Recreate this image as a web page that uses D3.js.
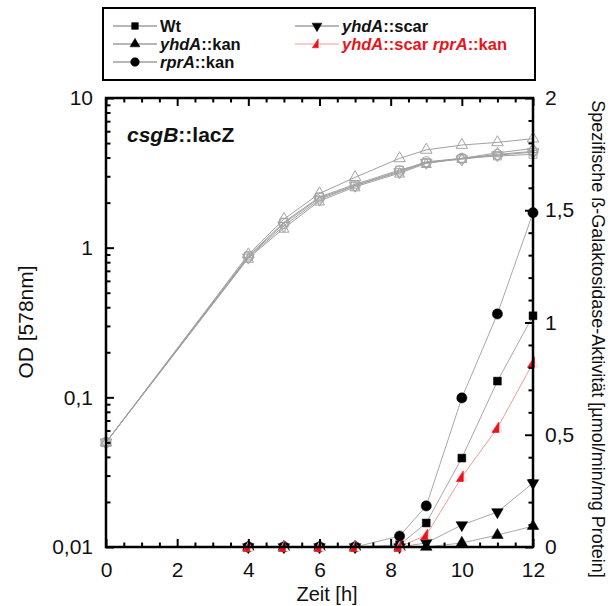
<!DOCTYPE html>
<html>
<head>
<meta charset="utf-8">
<script src="https://cdn.jsdelivr.net/npm/d3@7/dist/d3.min.js"></script>
<style>
  html, body { margin: 0; padding: 0; background: #fff; }
  svg { display: block; font-family: "Liberation Sans", Arial, sans-serif; }
</style>
</head>
<body>
<svg id="chart" width="610" height="606"></svg>
<script>
// Strain names (legend order)
const strains = ["Wt", "yhdA::kan", "rprA::kan", "yhdA::scar", "yhdA::scar rprA::kan"];

// Growth curve sampling times [h] and OD578 per strain
const odTimes = [0, 4, 5, 6, 7, 8.25, 9, 10, 11, 12];
const odWt        = [0.05, 0.88, 1.48, 2.18, 2.65, 3.30, 3.70, 3.95, 4.10, 4.20];
const odYhdAKan   = [0.05, 0.90, 1.55, 2.30, 2.95, 3.95, 4.50, 4.85, 5.05, 5.35];
const odRprAKan   = [0.05, 0.87, 1.45, 2.15, 2.60, 3.25, 3.75, 3.95, 4.20, 4.40];
const odYhdAScar  = [0.05, 0.86, 1.40, 2.10, 2.60, 3.20, 3.70, 3.90, 4.15, 4.35];
const odDouble    = [0.05, 0.85, 1.35, 2.05, 2.55, 3.15, 3.65, 3.95, 4.30, 4.60];

// Specific beta-galactosidase activity [µmol/min/mg protein]
const actTimes = [4, 5, 6, 7, 8.25, 9, 10, 11, 12];
const actWt       = [0, 0, 0, 0, 0.01, 0.107, 0.396, 0.739, 1.03];
const actYhdAKan  = [0, 0, 0, 0, 0, 0, 0.018, 0.053, 0.093];
const actRprAKan  = [0, 0, 0, 0, 0.049, 0.183, 0.664, 1.038, 1.489];
const actYhdAScar = [0, 0, 0, 0, 0, 0.018, 0.098, 0.156, 0.285];
const actDouble   = [0, 0, 0, 0, 0, 0.053, 0.312, 0.53, 0.82];

// Axis ticks
const xTicks = [0, 2, 4, 6, 8, 10, 12];
const odTicks = [0.01, 0.1, 1, 10];
const odTickLabels = ["0,01", "0,1", "1", "10"];
const actTicks = [0, 0.5, 1, 1.5, 2];
const actTickLabels = ["0", "0,5", "1", "1,5", "2"];

const odSeries = [odWt, odYhdAKan, odRprAKan, odYhdAScar, odDouble];
const actSeries = [actWt, actYhdAKan, actRprAKan, actYhdAScar, actDouble];

// Marker shape and colour for each strain
const styles = [
  { shape: "square",   color: "#000", line: "#a8a8a8" },
  { shape: "triUp",    color: "#000", line: "#a8a8a8" },
  { shape: "circle",   color: "#000", line: "#a8a8a8" },
  { shape: "triDown",  color: "#000", line: "#a8a8a8" },
  { shape: "halfTri",  color: "#e8141b", line: "#f39a9a" }
];

const svg = d3.select("#chart");
const FONT = '"Liberation Sans", Arial, sans-serif';

const x = d3.scaleLinear().domain([0, 12]).range([106, 533]);
const yOD = d3.scaleLog().domain([0.01, 10]).range([547, 98]);
const yAct = d3.scaleLinear().domain([0, 2]).range([547, 98]);

// Marker drawing
function drawMarker(g, shape, color, open, scale) {
  const k = scale || 1;
  const stroke = open ? "#a4a4a4" : color;
  const fill = open ? "none" : color;
  const sw = open ? 1 : 0.5;
  if (shape === "square") {
    g.append("path").attr("d", d3.symbol(d3.symbolSquare, 62 * k * k)())
      .attr("fill", fill).attr("stroke", stroke).attr("stroke-width", sw);
  } else if (shape === "circle") {
    g.append("path").attr("d", d3.symbol(d3.symbolCircle, 82 * k * k)())
      .attr("fill", fill).attr("stroke", stroke).attr("stroke-width", sw);
  } else if (shape === "triUp") {
    g.append("path").attr("d", d3.symbol(d3.symbolTriangle, 58 * k * k)())
      .attr("fill", fill).attr("stroke", stroke).attr("stroke-width", sw);
  } else if (shape === "triDown") {
    g.append("path").attr("d", d3.symbol(d3.symbolTriangle, 58 * k * k)())
      .attr("transform", "rotate(180)")
      .attr("fill", fill).attr("stroke", stroke).attr("stroke-width", sw);
  } else if (shape === "halfTri") {
    const t = `scale(${k})`;
    if (open) {
      g.append("path").attr("d", "M0,-5.5L5,4L-5,4Z").attr("transform", t)
        .attr("fill", "none").attr("stroke", stroke).attr("stroke-width", 1);
    } else {
      g.append("path").attr("d", "M0,-5.5L5,4L-5,4Z").attr("transform", t)
        .attr("fill", "#fff").attr("stroke", "#f8c6c6").attr("stroke-width", 0.7);
      g.append("path").attr("d", "M1.5,-6L1.5,4.5L-5.5,4.5Z").attr("transform", t)
        .attr("fill", color).attr("stroke", color).attr("stroke-width", 0.6);
    }
  }
}

// Writes a strain label with gene names in italics
function richText(textSel, label) {
  label.split(" ").forEach((tok, i) => {
    const prefix = i > 0 ? " " : "";
    const k = tok.indexOf("::");
    if (k > 0) {
      textSel.append("tspan").attr("font-style", "italic").text(prefix + tok.slice(0, k));
      textSel.append("tspan").text(tok.slice(k));
    } else {
      textSel.append("tspan").text(prefix + tok);
    }
  });
}

// ---- Growth curves (left axis, log OD)
const odLine = d3.line().x((d, i) => x(odTimes[i])).y(d => yOD(d));
odSeries.forEach((vals, s) => {
  svg.append("path").datum(vals).attr("d", odLine)
    .attr("fill", "none").attr("stroke", "#a0a0a0").attr("stroke-width", 1);
});
odSeries.forEach((vals, s) => {
  vals.forEach((v, i) => {
    const g = svg.append("g").attr("transform", `translate(${x(odTimes[i])},${yOD(v)})`);
    drawMarker(g, styles[s].shape, styles[s].color, true);
  });
});

// ---- Activity curves (right axis)
const actLine = d3.line().x((d, i) => x(actTimes[i])).y(d => yAct(d));
actSeries.forEach((vals, s) => {
  svg.append("path").datum(vals).attr("d", actLine)
    .attr("fill", "none").attr("stroke", styles[s].line).attr("stroke-width", 1);
});
[1, 3, 0, 2, 4].forEach(s => {
  actSeries[s].forEach((v, i) => {
    const g = svg.append("g").attr("transform", `translate(${x(actTimes[i])},${yAct(v)})`);
    drawMarker(g, styles[s].shape, styles[s].color, false);
  });
});

// ---- Axes
function styleAxis(g, fontSize) {
  g.select(".domain").remove();
  g.selectAll(".tick line").attr("stroke", "#000").attr("stroke-width", 2);
  g.selectAll(".tick text").attr("font-family", FONT).attr("font-size", fontSize).attr("fill", "#111");
}

const xMinor = d3.range(0, 12.01, 0.5).filter(v => v % 2 !== 0);
svg.append("g").attr("transform", "translate(0,547)")
  .call(d3.axisBottom(x).tickValues(xTicks).tickSize(-8).tickPadding(15).tickFormat(d3.format("d")))
  .call(g => styleAxis(g, 21));
svg.append("g").attr("transform", "translate(0,547)")
  .call(d3.axisBottom(x).tickValues(xMinor).tickSize(-4.5).tickFormat(""))
  .call(g => styleAxis(g, 21));
svg.append("g").attr("transform", "translate(0,98)")
  .call(d3.axisTop(x).tickValues(xTicks).tickSize(-8).tickFormat(""))
  .call(g => styleAxis(g, 21));
svg.append("g").attr("transform", "translate(0,98)")
  .call(d3.axisTop(x).tickValues(xMinor).tickSize(-4.5).tickFormat(""))
  .call(g => styleAxis(g, 21));

const odMinor = [];
[0.01, 0.1, 1].forEach(dec => { for (let m = 2; m <= 9; m++) odMinor.push(dec * m); });
svg.append("g").attr("transform", "translate(106,0)")
  .call(d3.axisLeft(yOD).tickValues(odTicks).tickSize(-8).tickPadding(13)
    .tickFormat((d, i) => odTickLabels[i]))
  .call(g => styleAxis(g, 21));
svg.append("g").attr("transform", "translate(106,0)")
  .call(d3.axisLeft(yOD).tickValues(odMinor).tickSize(-4.5).tickFormat(""))
  .call(g => styleAxis(g, 21));

const actMinor = d3.range(1, 20).map(v => v / 10).filter(v => Math.abs(v * 2 - Math.round(v * 2)) > 1e-6);
svg.append("g").attr("transform", "translate(533,0)")
  .call(d3.axisRight(yAct).tickValues(actTicks).tickSize(-8).tickPadding(12)
    .tickFormat((d, i) => actTickLabels[i]))
  .call(g => styleAxis(g, 21));
svg.append("g").attr("transform", "translate(533,0)")
  .call(d3.axisRight(yAct).tickValues(actMinor).tickSize(-4.5).tickFormat(""))
  .call(g => styleAxis(g, 21));

// Plot frame
svg.append("rect").attr("x", 106).attr("y", 98).attr("width", 427).attr("height", 449)
  .attr("fill", "none").attr("stroke", "#000").attr("stroke-width", 2.5);

// Axis titles
svg.append("text").attr("x", 327).attr("y", 601).attr("text-anchor", "middle")
  .attr("font-family", FONT).attr("font-size", 20).attr("fill", "#111").text("Zeit [h]");
svg.append("text").attr("transform", "translate(33,322) rotate(-90)").attr("text-anchor", "middle")
  .attr("font-family", FONT).attr("font-size", 21).attr("fill", "#111").text("OD [578nm]");
svg.append("text").attr("transform", "translate(592,339) rotate(90)").attr("text-anchor", "middle")
  .attr("font-family", FONT).attr("font-size", 18).attr("fill", "#111")
  .text("Spezifische ß-Galaktosidase-Aktivität [µmol/min/mg Protein]");

// Reporter label
const title = svg.append("text").attr("x", 127).attr("y", 142)
  .attr("font-family", FONT).attr("font-size", 21).attr("font-weight", "bold").attr("fill", "#111");
richText(title, "csgB::lacZ");

// ---- Legend
svg.append("rect").attr("x", 103).attr("y", 8).attr("width", 432).attr("height", 72)
  .attr("fill", "#fff").attr("stroke", "#000").attr("stroke-width", 2);
const legendPos = [
  { lx: 113, tx: 160, y: 26 },
  { lx: 113, tx: 160, y: 44 },
  { lx: 113, tx: 160, y: 62 },
  { lx: 295, tx: 342, y: 26 },
  { lx: 295, tx: 342, y: 44 }
];
strains.forEach((name, s) => {
  const p = legendPos[s];
  const st = styles[s];
  svg.append("line").attr("x1", p.lx).attr("x2", p.lx + 44).attr("y1", p.y).attr("y2", p.y)
    .attr("stroke", s === 4 ? st.line : "#707070").attr("stroke-width", 1);
  const g = svg.append("g").attr("transform", `translate(${p.lx + 22},${p.y})`);
  drawMarker(g, st.shape, st.color, false, 0.85);
  const t = svg.append("text").attr("x", p.tx).attr("y", p.y + 6)
    .attr("font-family", FONT).attr("font-size", 16.5).attr("font-weight", "bold")
    .attr("fill", s === 4 ? st.color : "#111");
  richText(t, name);
});
</script>
</body>
</html>
